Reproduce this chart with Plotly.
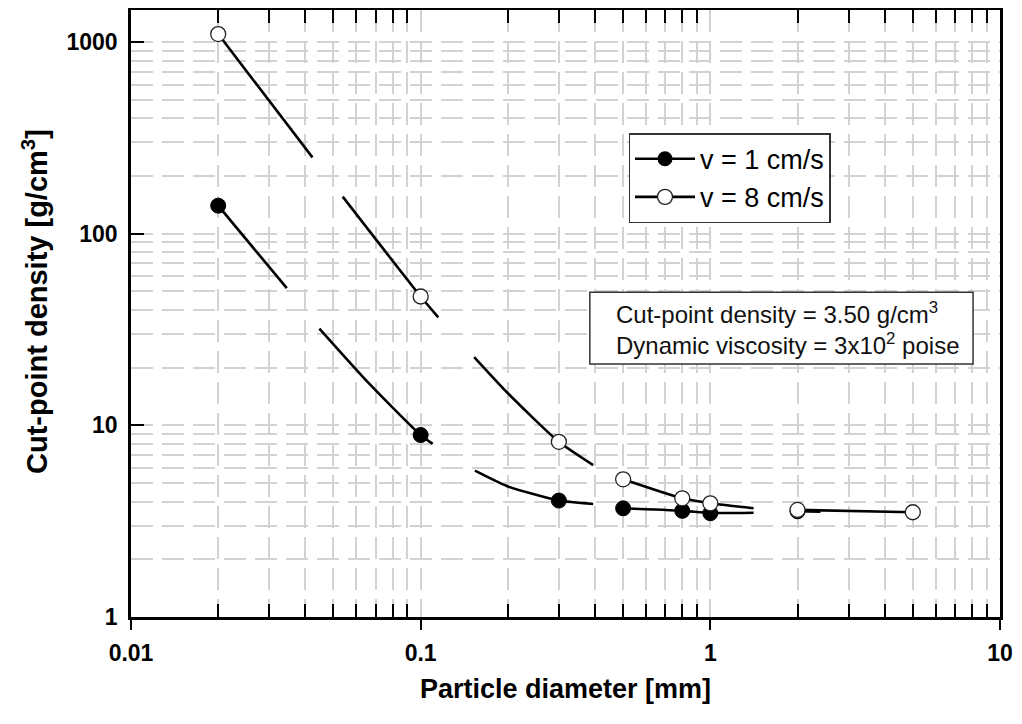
import plotly.graph_objects as go

# ---------------- data ----------------
diam_v1 = [0.02, 0.1, 0.3, 0.5, 0.8, 1.0, 2.0]
rho_v1 = [140, 8.9, 4.05, 3.69, 3.58, 3.48, 3.56]

diam_v8 = [0.02, 0.1, 0.3, 0.5, 0.8, 1.0, 2.0, 5.0]
rho_v8 = [1100, 47, 8.2, 5.23, 4.16, 3.92, 3.62, 3.52]

# drawn curves (broken into segments, None = gap)
curve_v1_x = [0.02, 0.0345, None, 0.0447, 0.0667, 0.1, 0.11, None,
              0.154, 0.2, 0.3, 0.394, None, 0.5, 0.8, 1.0, 1.41, None, 2.0, 2.4]
curve_v1_y = [140, 52, None, 32, 16.4, 8.9, 8.0, None,
              5.8, 4.8, 4.05, 3.89, None, 3.69, 3.58, 3.49, 3.5, None, 3.56, 3.54]

curve_v8_x = [0.02, 0.0423, None, 0.0538, 0.1, 0.115, None,
              0.153, 0.2, 0.3, 0.394, None, 0.5, 0.8, 1.0, 1.41, None, 2.0, 5.0]
curve_v8_y = [1100, 250, None, 156, 47, 36.6, None,
              22.7, 14.7, 8.2, 6.2, None, 5.23, 4.16, 3.92, 3.69, None, 3.62, 3.52]

series_names = ["v = 1 cm/s", "v = 8 cm/s"]

x_ticks = [0.01, 0.1, 1, 10]
x_ticklabels = ["0.01", "0.1", "1", "10"]
y_ticks = [1, 10, 100, 1000]
y_ticklabels = ["1", "10", "100", "1000"]

x_title = "Particle diameter [mm]"
y_title = "Cut-point density [g/cm<sup>3</sup>]"
note_text = ("Cut-point density = 3.50 g/cm<sup>3</sup><br>"
             "Dynamic viscosity = 3x10<sup>2</sup> poise")

# minor tick positions (2..9 in each decade)
x_minor = [k * 10.0 ** e for e in range(-2, 1) for k in range(2, 10)]
y_minor = [k * 10.0 ** e for e in range(0, 3) for k in range(2, 10)]

# ---------------- styling ----------------
FONT = "Arial, Liberation Sans, sans-serif"
GRID = "#d2d2d2"
GDASH = "22px,9px"
LW = 2.6
MSIZE = 15

fig = go.Figure()

# curves
for cx, cy in [(curve_v1_x, curve_v1_y), (curve_v8_x, curve_v8_y)]:
    fig.add_trace(go.Scatter(x=cx, y=cy, mode="lines",
                             line=dict(color="black", width=LW, shape="spline", smoothing=0.6),
                             connectgaps=False, showlegend=False, hoverinfo="skip"))

# markers
fig.add_trace(go.Scatter(x=diam_v1, y=rho_v1, mode="markers", showlegend=False,
                         marker=dict(symbol="circle", size=MSIZE, color="black",
                                     line=dict(color="black", width=1))))
fig.add_trace(go.Scatter(x=diam_v8, y=rho_v8, mode="markers", showlegend=False,
                         marker=dict(symbol="circle", size=MSIZE, color="white",
                                     line=dict(color="#222222", width=1.3))))

# legend entries
fig.add_trace(go.Scatter(x=[None], y=[None], mode="lines+markers", name=series_names[0],
                         line=dict(color="black", width=LW),
                         marker=dict(symbol="circle", size=MSIZE, color="black")))
fig.add_trace(go.Scatter(x=[None], y=[None], mode="lines+markers", name=series_names[1],
                         line=dict(color="black", width=LW),
                         marker=dict(symbol="circle", size=MSIZE, color="white",
                                     line=dict(color="#222222", width=1.3))))

# page body has an 8px margin -> figure is 8px smaller, margins shifted
fig.update_layout(
    width=1014, height=716,
    margin=dict(l=123, r=22, t=2, b=107, autoexpand=False),
    paper_bgcolor="white", plot_bgcolor="white",
    font=dict(family=FONT, color="black"),
    showlegend=True,
    legend=dict(x=0.5725, y=0.797, xanchor="left", yanchor="top",
                bgcolor="white", bordercolor="#333333", borderwidth=1.5,
                font=dict(family=FONT, size=27, color="black"),
                itemwidth=60, tracegroupgap=0),
    xaxis=dict(
        type="log", range=[-2, 1], automargin=False,
        tickmode="array", tickvals=x_ticks, ticktext=x_ticklabels,
        ticks="outside", ticklen=10, tickwidth=2, tickcolor="black",
        tickfont=dict(family=FONT, size=23, color="black", weight="bold"),
        ticklabelstandoff=4,
        showline=True, linewidth=LW, linecolor="black", mirror="allticks",
        showgrid=True, gridcolor=GRID, gridwidth=1.5, griddash=GDASH,
        minor=dict(tickmode="array", tickvals=x_minor, ticks="inside", ticklen=13,
                   tickwidth=1.5, tickcolor="black",
                   showgrid=True, gridcolor=GRID, gridwidth=1.5, griddash=GDASH),
        title=dict(text=x_title, standoff=14,
                   font=dict(family=FONT, size=27, color="black", weight="bold")),
        zeroline=False,
    ),
    yaxis=dict(
        type="log", range=[0, 3.167], automargin=False,
        tickmode="array", tickvals=y_ticks, ticktext=y_ticklabels,
        ticks="inside", ticklen=13, tickwidth=2, tickcolor="black",
        tickfont=dict(family=FONT, size=23, color="black", weight="bold"),
        ticklabelstandoff=6,
        showline=True, linewidth=LW, linecolor="black", mirror=True,
        showgrid=True, gridcolor=GRID, gridwidth=1.5, griddash=GDASH,
        minor=dict(tickmode="array", tickvals=y_minor, ticks="",
                   showgrid=True, gridcolor=GRID, gridwidth=1.5, griddash=GDASH),
        zeroline=False,
    ),
    shapes=[dict(type="rect", xref="paper", yref="paper",
                 x0=0.528, x1=0.969, y0=0.417, y1=0.535,
                 line=dict(color="#333333", width=1.5), fillcolor="white", layer="above")],
    annotations=[
        dict(xref="paper", yref="paper", x=0.556, y=0.476,
             xanchor="left", yanchor="middle", align="left", showarrow=False,
             text=note_text, font=dict(family=FONT, size=24, color="#111111")),
        dict(xref="paper", yref="paper", x=-0.1105, y=0.5206,
             xanchor="center", yanchor="middle", showarrow=False, textangle=-90,
             text=y_title, font=dict(family=FONT, size=29, color="black", weight="bold")),
    ],
)

fig.write_html("out.html")
